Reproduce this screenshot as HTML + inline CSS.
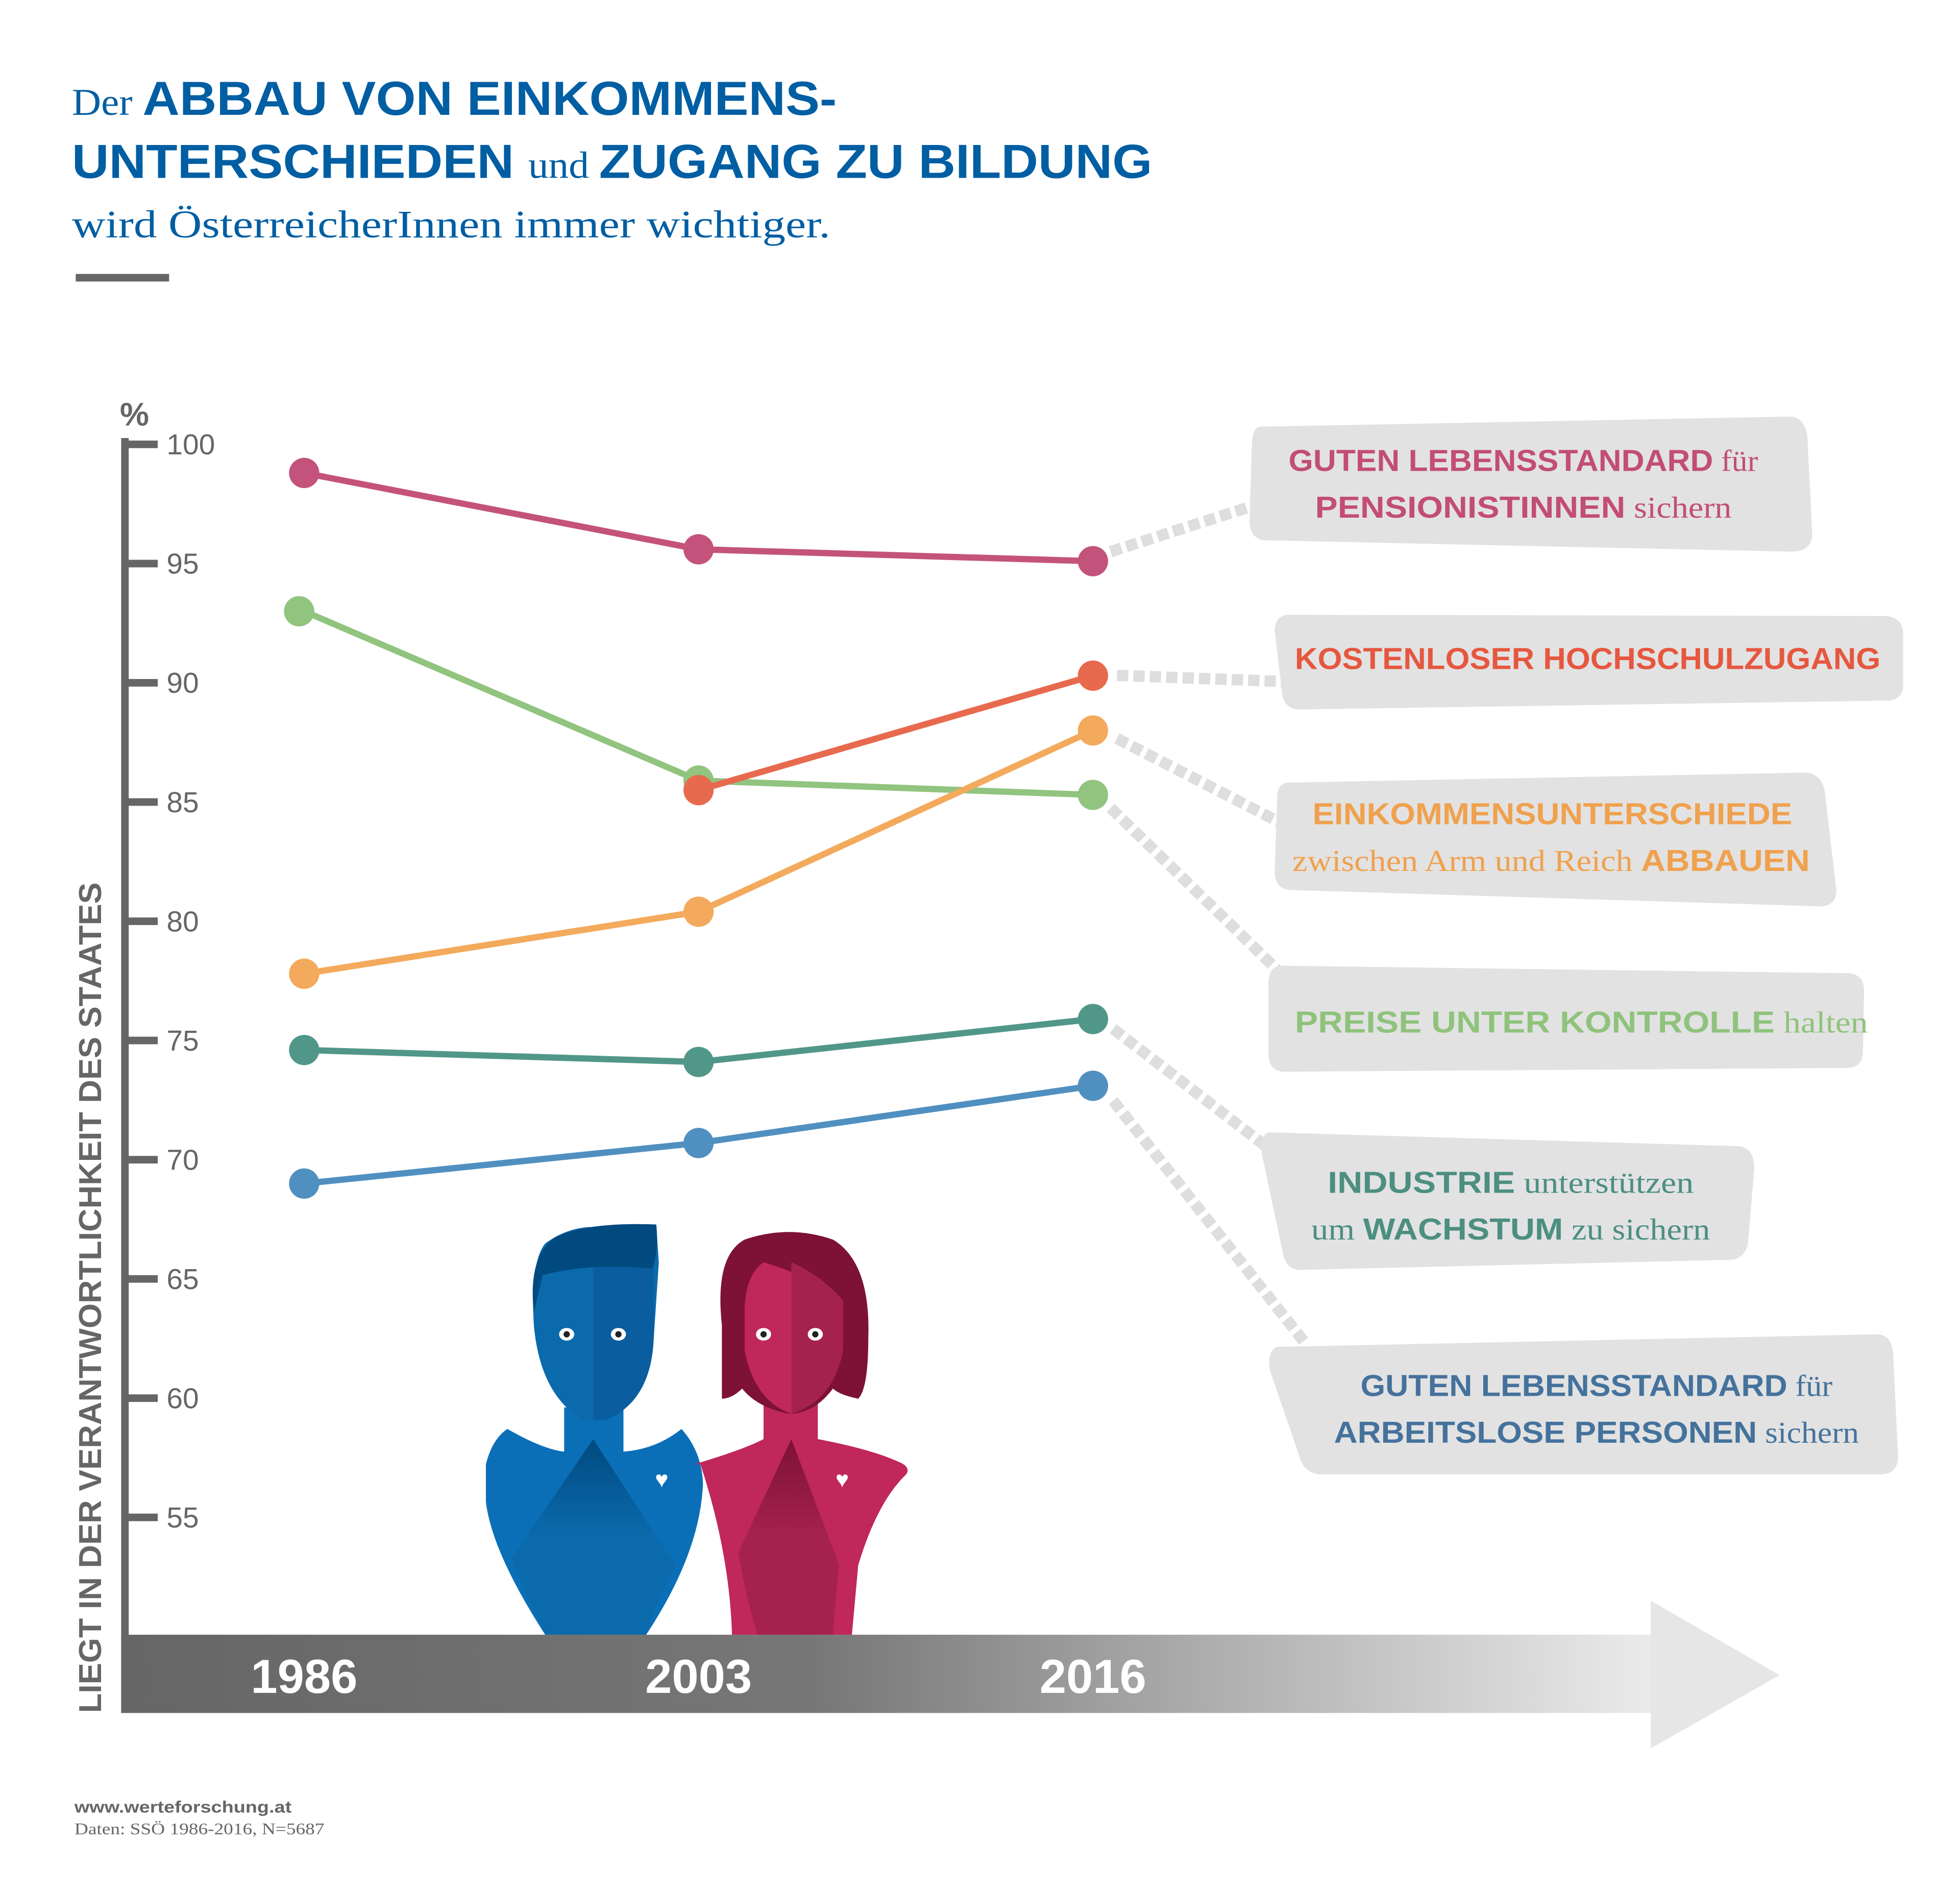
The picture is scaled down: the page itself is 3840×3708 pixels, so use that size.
<!DOCTYPE html>
<html><head><meta charset="utf-8">
<style>
html,body{margin:0;padding:0;background:#fff;}
svg{display:block;}
.b{font-family:"Liberation Sans",sans-serif;font-weight:bold;}
.s{font-family:"Liberation Serif",serif;font-weight:normal;}
</style></head>
<body>
<svg id="chart" width="3840" height="3708" viewBox="0 0 1553 1499.6" xmlns="http://www.w3.org/2000/svg">
<defs>
<linearGradient id="band" x1="0" x2="1" y1="0" y2="0">
<stop offset="0" stop-color="#666"/><stop offset="0.45" stop-color="#777"/><stop offset="1" stop-color="#ececec"/>
</linearGradient>
<linearGradient id="manbody" x1="0" x2="0" y1="0" y2="1">
<stop offset="0" stop-color="#004a80"/><stop offset="0.5" stop-color="#0b6aac"/><stop offset="1" stop-color="#0b6aac"/>
</linearGradient>
<linearGradient id="womanbody" x1="0" x2="0" y1="0" y2="1">
<stop offset="0" stop-color="#7d1136"/><stop offset="0.5" stop-color="#a6224e"/><stop offset="1" stop-color="#a6224e"/>
</linearGradient>
</defs>

<!-- Title -->
<g fill="#005ea3">
<text x="57" y="91" textLength="606" lengthAdjust="spacingAndGlyphs"><tspan class="s" font-size="30">Der </tspan><tspan class="b" font-size="38">ABBAU VON EINKOMMENS-</tspan></text>
<text x="57" y="141" textLength="856" lengthAdjust="spacingAndGlyphs"><tspan class="b" font-size="38">UNTERSCHIEDEN </tspan><tspan class="s" font-size="30">und </tspan><tspan class="b" font-size="38">ZUGANG ZU BILDUNG</tspan></text>
<text class="s" x="57" y="188" font-size="31" textLength="601" lengthAdjust="spacingAndGlyphs">wird ÖsterreicherInnen immer wichtiger.</text>
</g>
<rect x="60" y="217" width="74" height="6" fill="#666"/>

<!-- axis -->
<text class="b" x="95" y="337" font-size="26" fill="#666">%</text>
<rect x="96" y="347" width="6" height="1010" fill="#666"/>
<g id="ticks"></g>
<text class="b" font-size="25" fill="#666" transform="translate(80,1357) rotate(-90)" textLength="658" lengthAdjust="spacingAndGlyphs">LIEGT IN DER VERANTWORTLICHKEIT DES STAATES</text>

<!-- people -->
<g>
<path d="M385 1160 Q390 1140 402 1132 Q430 1148 447 1150 L447 1115 L494 1115 L494 1150 Q520 1148 540 1132 Q556 1150 557 1175 Q555 1230 512 1295 L432 1295 Q390 1230 385 1190 Z" fill="#0b6fb8"/>
<path d="M470 1140 L535 1240 Q520 1270 512 1295 L432 1295 Q415 1260 405 1235 Z" fill="url(#manbody)"/>
<path d="M423 1050 Q420 1000 432 985 Q450 972 470 972 L520 970 L522 1000 L518 1060 Q516 1110 480 1125 L462 1125 Q428 1105 423 1050 Z" fill="#0b6aac"/>
<path d="M470 1000 L518 1000 L518 1060 Q516 1110 480 1125 L470 1125 Z" fill="#0a5d9e"/>
<path d="M423 1040 Q418 995 440 980 Q465 968 520 970 Q522 990 517 1005 Q470 1000 430 1010 Z" fill="#004a80"/>
<ellipse cx="449" cy="1057" rx="6" ry="5" fill="#fff"/><ellipse cx="490" cy="1057" rx="6" ry="5" fill="#fff"/>
<circle cx="449" cy="1057" r="2.5" fill="#222"/><circle cx="490" cy="1057" r="2.5" fill="#222"/>
<text x="519" y="1178" font-size="18" fill="#fff" class="b">♥</text>
</g>
<g>
<path d="M550 1160 Q590 1148 605 1140 L605 1105 L648 1105 L648 1140 Q690 1148 712 1158 Q722 1162 718 1168 Q695 1190 680 1240 L675 1295 L580 1295 Q578 1230 555 1160 Z" fill="#c0275a"/>
<path d="M627 1140 L665 1240 Q662 1265 660 1295 L600 1295 Q590 1260 585 1230 Z" fill="url(#womanbody)"/>
<path d="M572 1050 Q566 995 590 982 Q625 970 660 982 Q690 1000 688 1060 Q688 1100 680 1108 Q665 1105 660 1100 Q645 1120 625 1120 Q600 1115 588 1100 Q580 1108 572 1108 Z" fill="#7d1136"/>
<path d="M590 1040 Q590 1010 605 1000 Q640 1010 668 1030 L668 1070 Q660 1110 627 1120 Q598 1110 590 1070 Z" fill="#c0275a"/>
<path d="M627 1000 Q650 1010 668 1030 L668 1070 Q660 1110 627 1120 Z" fill="#a6224e"/>
<ellipse cx="605" cy="1057" rx="6" ry="5" fill="#fff"/><ellipse cx="646" cy="1057" rx="6" ry="5" fill="#fff"/>
<circle cx="605" cy="1057" r="2.5" fill="#222"/><circle cx="646" cy="1057" r="2.5" fill="#222"/>
<text x="662" y="1178" font-size="18" fill="#fff" class="b">♥</text>
</g>

<!-- time band -->
<g>
<rect x="96" y="1295" width="1220" height="62" fill="url(#band)"/>
<polygon points="1308,1268 1410,1327 1308,1385" fill="#e6e6e6"/>
</g>
<g id="years"></g>

<!-- connectors & callouts -->
<g id="connectors"></g>
<g>
<path d="M998 338 L1420 330 Q1430 332 1432 345 L1436 425 Q1434 437 1420 437 L1003 428 Q992 428 990 415 L992 350 Q993 339 998 338 Z" fill="#e2e2e2"/>
<text x="1207" y="373" text-anchor="middle" font-size="24" fill="#c24d77" textLength="372" lengthAdjust="spacingAndGlyphs"><tspan class="b">GUTEN LEBENSSTANDARD</tspan><tspan class="s"> für</tspan></text>
<text x="1207" y="410" text-anchor="middle" font-size="24" fill="#c24d77" textLength="330" lengthAdjust="spacingAndGlyphs"><tspan class="b">PENSIONISTINNEN</tspan><tspan class="s"> sichern</tspan></text>

<path d="M1020 487 L1495 488 Q1508 490 1508 502 L1508 545 Q1506 555 1495 555 L1030 562 Q1018 562 1016 550 L1010 500 Q1010 488 1020 487 Z" fill="#e2e2e2"/>
<text class="b" x="1258" y="530" text-anchor="middle" font-size="24" fill="#e6573f" textLength="464" lengthAdjust="spacingAndGlyphs">KOSTENLOSER HOCHSCHULZUGANG</text>

<path d="M1020 620 L1432 612 Q1444 614 1446 628 L1455 705 Q1455 718 1442 718 L1022 705 Q1010 704 1010 690 L1012 632 Q1012 621 1020 620 Z" fill="#e2e2e2"/>
<text class="b" x="1230" y="653" text-anchor="middle" font-size="24" fill="#f0a14e" textLength="380" lengthAdjust="spacingAndGlyphs">EINKOMMENSUNTERSCHIEDE</text>
<text x="1229" y="690" text-anchor="middle" font-size="24" fill="#f0a14e" textLength="410" lengthAdjust="spacingAndGlyphs"><tspan class="s">zwischen Arm und Reich </tspan><tspan class="b">ABBAUEN</tspan></text>

<path d="M1015 765 L1465 771 Q1477 772 1477 785 L1476 835 Q1475 846 1463 846 L1018 849 Q1006 849 1005 836 L1005 778 Q1006 765 1015 765 Z" fill="#e2e2e2"/>
<text x="1253" y="818" text-anchor="middle" font-size="24" fill="#8fc37c" textLength="454" lengthAdjust="spacingAndGlyphs"><tspan class="b">PREISE UNTER KONTROLLE</tspan><tspan class="s"> halten</tspan></text>

<path d="M1005 897 L1378 908 Q1390 910 1390 925 L1385 985 Q1382 998 1370 998 L1030 1006 Q1020 1006 1017 995 L1000 915 Q998 900 1005 897 Z" fill="#e2e2e2"/>
<text x="1197" y="945" text-anchor="middle" font-size="24" fill="#4c8f81" textLength="290" lengthAdjust="spacingAndGlyphs"><tspan class="b">INDUSTRIE</tspan><tspan class="s"> unterstützen</tspan></text>
<text x="1197" y="982" text-anchor="middle" font-size="24" fill="#4c8f81" textLength="316" lengthAdjust="spacingAndGlyphs"><tspan class="s">um </tspan><tspan class="b">WACHSTUM</tspan><tspan class="s"> zu sichern</tspan></text>

<path d="M1012 1067 L1488 1057 Q1499 1058 1500 1072 L1504 1155 Q1503 1168 1490 1168 L1045 1168 Q1033 1166 1030 1155 L1006 1085 Q1004 1070 1012 1067 Z" fill="#e2e2e2"/>
<text x="1265" y="1106" text-anchor="middle" font-size="24" fill="#44729c" textLength="374" lengthAdjust="spacingAndGlyphs"><tspan class="b">GUTEN LEBENSSTANDARD</tspan><tspan class="s"> für</tspan></text>
<text x="1265" y="1143" text-anchor="middle" font-size="24" fill="#44729c" textLength="416" lengthAdjust="spacingAndGlyphs"><tspan class="b">ARBEITSLOSE PERSONEN</tspan><tspan class="s"> sichern</tspan></text>
</g>

<g id="series"></g>

<!-- footer -->
<text class="b" x="59" y="1436" font-size="13" fill="#666" textLength="172" lengthAdjust="spacingAndGlyphs">www.werteforschung.at</text>
<text class="s" x="59" y="1453" font-size="13" fill="#666" textLength="198" lengthAdjust="spacingAndGlyphs">Daten: SSÖ 1986-2016, N=5687</text>
</svg>
<script>
const years = ['1986', '2003', '2016'];
const yTicks = [100, 95, 90, 85, 80, 75, 70, 65, 60, 55];
const pensioners = [98.8, 95.6, 95.1];
const prices = [93.0, 85.9, 85.3];
const university = [null, 85.5, 90.3];
const incomeGap = [77.8, 80.4, 88.0];
const industry = [74.6, 74.1, 75.9];
const unemployed = [69.0, 70.7, 73.1];

const NS = 'http://www.w3.org/2000/svg';
const xPos = i => 241 + i * 312.5;
const yPos = v => 352 + (100 - v) * 18.89;
function mk(tag, attrs, parent) {
  const e = document.createElementNS(NS, tag);
  for (const k in attrs) e.setAttribute(k, attrs[k]);
  parent.appendChild(e);
  return e;
}
const tg = document.getElementById('ticks');
yTicks.forEach(t => {
  const y = yPos(t);
  const r = mk('rect', {x: 99, y: y - 3, width: 26, height: 6, fill: '#666'}, tg);
  
  
  const tx = mk('text', {x: 132, y: y + 8, 'font-size': 23, fill: '#666', 'font-family': 'Liberation Sans, sans-serif'}, tg);
  
  
  tx.textContent = t;
});
const yg = document.getElementById('years');
years.forEach((yr, i) => {
  const tx = mk('text', {x: xPos(i), y: 1341, 'text-anchor': 'middle', 'font-size': 38, fill: '#fff', 'class': 'b'}, yg);
  
  
  tx.textContent = yr;
});
const cg = document.getElementById('connectors');
const conns = [[880,437,995,400],[885,535,1020,540],[885,585,1015,652],[880,640,1022,778],[882,815,1003,908],[882,872,1035,1065]];
conns.forEach(c => {
  const l = mk('line', {x1: c[0], y1: c[1], x2: c[2], y2: c[3], stroke: '#dedede', 'stroke-width': 9, 'stroke-dasharray': '9 4'}, cg);
  
  
});
const series = [
  ['prices', prices, '#91c47f'],
  ['income-gap', incomeGap, '#f3aa5c'],
  ['university', university, '#e86a4e'],
  ['pensioners', pensioners, '#c4537b'],
  ['industry', industry, '#519789'],
  ['unemployed', unemployed, '#5090c0']
];
const sg = document.getElementById('series');
series.forEach(([name, vals, col]) => {
  const pts = [];
  vals.forEach((v, i) => { if (v !== null) pts.push(xPos(i) + ',' + yPos(v)); });
  const pl = mk('polyline', {points: pts.join(' '), fill: 'none', stroke: col, 'stroke-width': 5}, sg);
  
  
  vals.forEach((v, i) => {
    if (v === null) return;
    const c = mk('circle', {cx: xPos(i) - (name === 'prices' && i === 0 ? 4 : 0), cy: yPos(v), r: 12, fill: col}, sg);
    
    
  });
});
</script>
</body></html>
